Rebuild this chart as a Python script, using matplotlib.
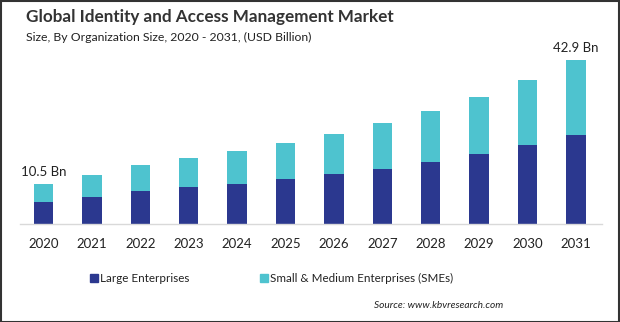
import matplotlib
matplotlib.use("Agg")
import matplotlib.pyplot as plt
from matplotlib.patches import Rectangle

years = ["2020", "2021", "2022", "2023", "2024", "2025",
         "2026", "2027", "2028", "2029", "2030", "2031"]
large = [5.8, 7.1, 8.6, 9.7, 10.5, 11.8, 13.1, 14.4, 16.2, 18.3, 20.7, 23.3]
total = [10.5, 12.8, 15.4, 17.3, 19.1, 21.2, 23.5, 26.4, 29.6, 33.2, 37.7, 42.9]
sme = [t - l for t, l in zip(total, large)]
series_names = ["Large Enterprises", "Small & Medium Enterprises (SMEs)"]

DARK = "#2B388F"
CYAN = "#4EC3CF"
FONT = "Lato"

W, H = 620, 322
fig = plt.figure(figsize=(W / 100, H / 100), dpi=100)
fig.patch.set_facecolor("white")

ax = fig.add_axes([20 / W, (H - 224) / H, 582 / W, 174 / H])
x = list(range(len(years)))
ax.bar(x, large, width=0.4, color=DARK, zorder=2)
ax.bar(x, sme, width=0.4, bottom=large, color=CYAN, zorder=2)
ax.set_xlim(-0.485, 11.54)
ax.set_ylim(0, 42.9 * 174 / 164)
for s in ["top", "right", "left"]:
    ax.spines[s].set_visible(False)
ax.spines["bottom"].set_color("#D9D9D9")
ax.spines["bottom"].set_linewidth(1.0)
ax.set_yticks([])
ax.set_xticks(x)
ax.set_xticklabels(years, fontsize=9.5, family=FONT, color="#222222")
ax.tick_params(axis="x", length=0, pad=10)

ax.annotate(f"{total[0]} Bn", (x[0], total[0]), xytext=(0, 4), textcoords="offset points",
            ha="center", va="bottom", fontsize=9.5, family=FONT, color="#222222")
ax.annotate(f"{total[-1]} Bn", (x[-1], total[-1]), xytext=(0, 4), textcoords="offset points",
            ha="center", va="bottom", fontsize=9.5, family=FONT, color="#222222")

fig.text(26 / W, 1 - 17 / H, "Global Identity and Access Management Market",
         fontsize=12.3, fontweight="bold", family=FONT, color="#333333", va="center")
fig.text(26 / W, 1 - 37 / H, "Size, By Organization Size, 2020 - 2031, (USD Billion)",
         fontsize=8.8, family=FONT, color="#222222", va="center")

# legend
ly = 1 - 278 / H
fig.patches.append(Rectangle((90 / W, ly - 4 / H), 8 / W, 8 / H, transform=fig.transFigure,
                             color=DARK))
fig.text(100 / W, ly, series_names[0], fontsize=8.4, family=FONT, color="#222222", va="center")
fig.patches.append(Rectangle((260 / W, ly - 4 / H), 8 / W, 8 / H, transform=fig.transFigure,
                             color=CYAN))
fig.text(270 / W, ly, series_names[1], fontsize=8.4, family=FONT, color="#222222", va="center")

fig.text(503 / W, 1 - 306 / H, "Source: www.kbvresearch.com", fontsize=7.3,
         family=FONT, style="italic", color="#222222", ha="right", va="center")

# frame
fig.patches.append(Rectangle((0.5 / W, 0.5 / H), (W - 1.5) / W, (H - 1.5) / H,
                             transform=fig.transFigure, fill=False,
                             edgecolor="#333333", linewidth=1.5))

fig.savefig("out.png", dpi=100)
